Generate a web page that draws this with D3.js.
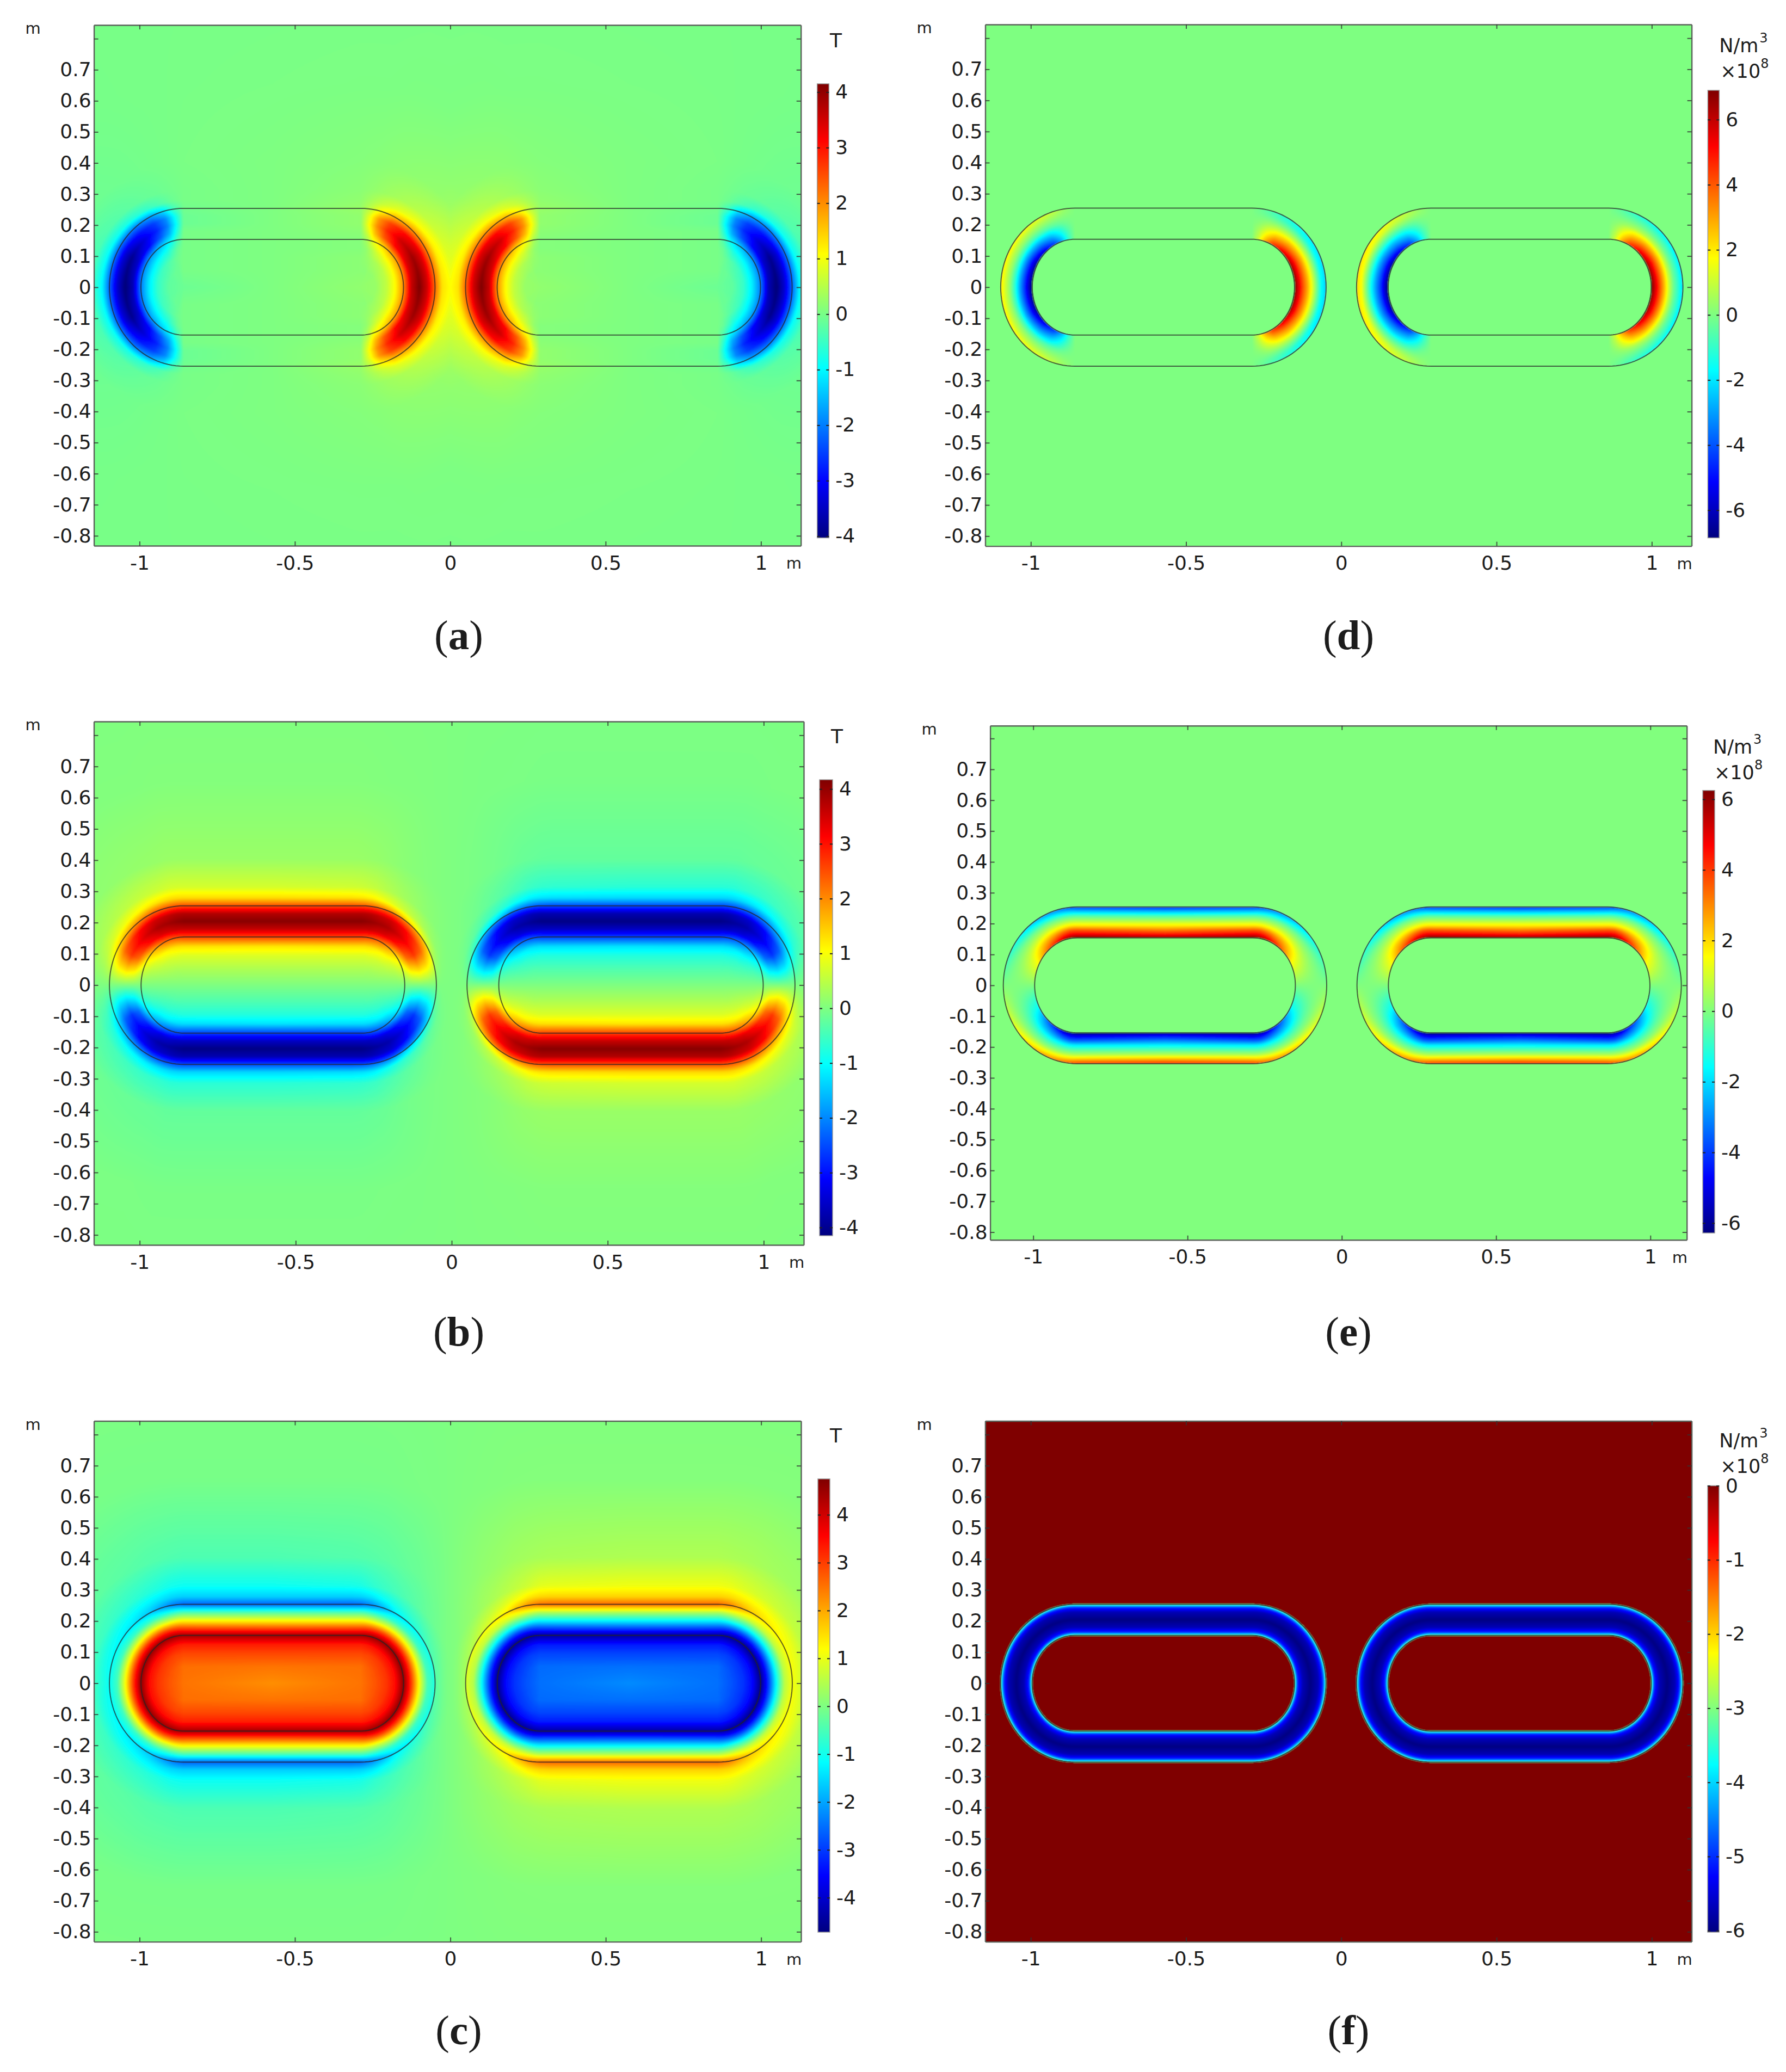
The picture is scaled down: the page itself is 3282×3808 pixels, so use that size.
<!DOCTYPE html>
<html>
<head>
<meta charset="utf-8">
<script src="https://cdn.jsdelivr.net/npm/d3@7"></script>
<style>
  body { margin: 0; background: #fff; }
  text { fill: #1c1c1c; }
</style>
</head>
<body>
<svg id="chart" width="3282" height="3808"></svg>
<script>
// axis ticks
const xTicks = [-1, -0.5, 0, 0.5, 1];
const yTicks = [-0.8, -0.7, -0.6, -0.5, -0.4, -0.3, -0.2, -0.1, 0, 0.1, 0.2, 0.3, 0.4, 0.5, 0.6, 0.7, 0.8];
const xDomain = [-1.1468, 1.1284];
const yDomain = [-0.832, 0.844];
const xDomainE = [-1.1395, 1.118];
const yDomainE = [-0.825, 0.8415];

// colour bar ranges and ticks, panels a..f
const barA = [-4.03, 4.15], barATicks = [-4, -3, -2, -1, 0, 1, 2, 3, 4];
const barB = [-4.15, 4.17], barBTicks = [-4, -3, -2, -1, 0, 1, 2, 3, 4];
const barC = [-4.72, 4.75], barCTicks = [-4, -3, -2, -1, 0, 1, 2, 3, 4];
const barD = [-6.85, 6.9], barDTicks = [-6, -4, -2, 0, 2, 4, 6];
const barE = [-6.28, 6.25], barETicks = [-6, -4, -2, 0, 2, 4, 6];
const barF = [-6.02, 0], barFTicks = [-6, -5, -4, -3, -2, -1, 0];

// coil outline: half length of the straight part and radii of the round ends
const coilCentre = -0.573;
const coilHalfStraight = 0.285;
const innerRx = 0.1375, innerRy = 0.154;
const outerRx = 0.239, outerRy = 0.254;
const rightCoilStretch = 1.003;

// stations along the top half of the left coil:
// -90..0 angle on the left end, 0..100 straight part, 100..190 angle on the right end
const stations = [-90, -60, -40, -25, -15, -8, 0, 50, 100, 108, 115, 125, 140, 160, 190];
// across the coil: <0 hole, 0..1 winding, >1 outside
const fieldRows = [-1.54, -1, -0.6, -0.3, 0, 0.25, 0.5, 0.75, 1, 1.25, 1.6, 2.5, 5, 9];
const windingRows = [0, 0.1, 0.25, 0.4, 0.55, 0.7, 0.85, 1];
const forceFRows = [0, 0.03, 0.09, 0.26, 0.5, 0.75, 0.9, 0.97, 1];

// fields that change sign at x = 0 die out towards that line
const midlineX = [0, 0.04, 0.1, 0.2, 0.32];
const midlineK = [0, 0.35, 0.65, 0.88, 1];

// values, one row per fieldRows / windingRows entry
const fieldA = [
  [-0.1, -0.1, -0.1, -0.1, -0.1, -0.1, -0.1, 0.05, 0.2, 0.2, 0.2, 0.2, 0.2, 0.2, 0.2],
  [-0.2, -0.2, -0.15, -0.1, -0.1, -0.05, 0, 0.05, 0.15, 0.15, 0.15, 0.2, 0.2, 0.25, 0.25],
  [-0.55, -0.5, -0.4, -0.25, -0.12, -0.05, 0, 0.05, 0.15, 0.2, 0.25, 0.35, 0.45, 0.55, 0.6],
  [-1.1, -1.05, -0.9, -0.7, -0.35, -0.12, 0, 0.05, 0.1, 0.2, 0.4, 0.7, 0.95, 1.05, 1.1],
  [-2.0, -1.9, -1.7, -1.3, -0.9, -0.4, 0, 0.05, 0.1, 0.4, 0.9, 1.3, 1.7, 1.9, 2.0],
  [-3.6, -3.4, -3.0, -2.3, -1.6, -0.8, 0, 0.05, 0.15, 0.8, 1.6, 2.4, 3.1, 3.4, 3.6],
  [-4.1, -3.9, -3.3, -2.7, -2.0, -1.1, -0.1, 0.05, 0.2, 1.1, 2.0, 2.8, 3.5, 3.9, 4.15],
  [-3.4, -3.3, -2.9, -2.5, -1.9, -1.0, -0.1, 0.05, 0.2, 1.0, 1.9, 2.6, 3.1, 3.4, 3.5],
  [-2.2, -2.1, -2.0, -1.7, -1.2, -0.5, -0.05, 0.05, 0.25, 0.6, 1.1, 1.6, 1.9, 2.1, 2.3],
  [-1.0, -0.9, -0.75, -0.55, -0.3, -0.12, 0, 0.05, 0.2, 0.4, 0.6, 0.85, 1.05, 1.2, 1.3],
  [-0.4, -0.35, -0.25, -0.15, -0.1, -0.05, 0, 0.05, 0.15, 0.22, 0.3, 0.4, 0.55, 0.75, 1.0],
  [-0.1, -0.1, -0.08, -0.05, -0.02, 0, 0.02, 0.05, 0.1, 0.12, 0.15, 0.18, 0.22, 0.4, 1.0],
  [-0.02, -0.02, -0.02, -0.01, 0, 0, 0.01, 0.02, 0.03, 0.03, 0.04, 0.04, 0.05, 0.08, 0.15],
  [0, 0, 0, 0, 0, 0, 0, 0, 0, 0, 0, 0, 0, 0, 0]
];
const fieldB = [
  [0, 0, 0, 0, 0, 0, 0, 0, 0, 0, 0, 0, 0, 0, 0],
  [0, 0.2, 0.3, 0.35, 0.38, 0.4, 0.4, 0.4, 0.4, 0.4, 0.38, 0.35, 0.3, 0.2, 0],
  [0, 0.4, 0.6, 0.7, 0.75, 0.75, 0.75, 0.75, 0.75, 0.75, 0.75, 0.7, 0.6, 0.4, 0],
  [0, 0.6, 1.0, 1.15, 1.25, 1.3, 1.3, 1.25, 1.3, 1.3, 1.25, 1.15, 1.0, 0.6, 0],
  [0, 1.0, 1.7, 2.2, 2.4, 2.5, 2.6, 2.6, 2.6, 2.5, 2.4, 2.2, 1.7, 1.0, 0],
  [0, 2.2, 3.0, 3.4, 3.5, 3.6, 3.6, 3.6, 3.6, 3.6, 3.5, 3.4, 3.0, 2.2, 0],
  [0, 2.7, 3.4, 3.8, 3.9, 4.0, 4.1, 4.1, 4.1, 4.0, 3.9, 3.8, 3.4, 2.7, 0],
  [0, 2.3, 3.1, 3.5, 3.6, 3.7, 3.75, 3.75, 3.75, 3.7, 3.6, 3.5, 3.1, 2.3, 0],
  [0, 1.3, 1.9, 2.3, 2.4, 2.45, 2.5, 2.5, 2.5, 2.45, 2.4, 2.3, 1.9, 1.3, 0],
  [0, 0.7, 1.0, 1.2, 1.3, 1.35, 1.35, 1.35, 1.3, 1.25, 1.1, 0.9, 0.7, 0.4, 0],
  [0, 0.35, 0.5, 0.6, 0.65, 0.7, 0.7, 0.7, 0.65, 0.6, 0.5, 0.4, 0.25, 0.1, 0],
  [0, 0.1, 0.15, 0.18, 0.2, 0.22, 0.22, 0.22, 0.22, 0.2, 0.16, 0.1, 0.06, 0.02, 0],
  [0, 0.01, 0.02, 0.03, 0.03, 0.04, 0.04, 0.04, 0.04, 0.03, 0.03, 0.02, 0.01, 0, 0],
  [0, 0, 0, 0, 0, 0, 0, 0, 0, 0, 0, 0, 0, 0, 0]
];
const fieldC = [
  [2.5, 2.5, 2.5, 2.5, 2.5, 2.5, 2.5, 2.25, 2.5, 2.5, 2.5, 2.5, 2.5, 2.5, 2.5],
  [2.8, 2.8, 2.75, 2.7, 2.65, 2.6, 2.55, 2.5, 2.55, 2.6, 2.65, 2.7, 2.75, 2.8, 2.8],
  [3.1, 3.1, 3.05, 3.0, 2.95, 2.95, 2.9, 2.9, 2.9, 2.95, 2.95, 3.0, 3.05, 3.1, 3.1],
  [3.5, 3.5, 3.5, 3.45, 3.4, 3.35, 3.3, 3.3, 3.3, 3.35, 3.4, 3.45, 3.5, 3.5, 3.5],
  [4.6, 4.6, 4.55, 4.5, 4.5, 4.45, 4.4, 4.4, 4.4, 4.45, 4.5, 4.5, 4.55, 4.6, 4.6],
  [3.0, 3.0, 2.95, 2.9, 2.85, 2.8, 2.75, 2.7, 2.75, 2.8, 2.85, 2.9, 2.95, 3.0, 3.0],
  [1.1, 1.0, 0.95, 0.9, 0.85, 0.95, 1.05, 1.05, 1.05, 0.95, 0.85, 0.9, 0.95, 1.0, 1.1],
  [-0.55, -0.6, -0.65, -0.7, -0.75, -0.7, -0.55, -0.5, -0.55, -0.7, -0.75, -0.7, -0.65, -0.6, -0.5],
  [-1.1, -1.2, -1.4, -1.7, -2.1, -2.4, -2.6, -2.6, -2.6, -2.4, -2.1, -1.6, -1.3, -1.05, -0.9],
  [-0.85, -1.0, -1.15, -1.3, -1.45, -1.55, -1.6, -1.6, -1.6, -1.5, -1.3, -1.1, -0.9, -0.75, -0.6],
  [-0.5, -0.6, -0.7, -0.8, -0.9, -1.0, -1.05, -1.05, -0.95, -0.8, -0.7, -0.6, -0.45, -0.3, -0.15],
  [-0.2, -0.25, -0.3, -0.35, -0.4, -0.42, -0.45, -0.45, -0.4, -0.38, -0.35, -0.3, -0.25, -0.15, -0.1],
  [-0.04, -0.05, -0.05, -0.06, -0.06, -0.06, -0.06, -0.06, -0.06, -0.06, -0.05, -0.05, -0.04, -0.03, -0.02],
  [0, 0, 0, 0, 0, 0, 0, 0, 0, 0, 0, 0, 0, 0, 0]
];
const forceD = [
  [-6.9, -6.6, -5.8, -4.5, -2.8, -1.2, 0, 0, 0, 1.2, 2.8, 4.5, 5.8, 6.6, 6.9],
  [-6.0, -5.7, -4.9, -3.8, -2.3, -1.0, 0, 0, 0, 1.0, 2.3, 3.8, 4.8, 5.6, 5.9],
  [-4.4, -4.2, -3.6, -2.8, -1.7, -0.8, 0, 0, 0, 0.8, 1.7, 2.8, 3.5, 4.1, 4.3],
  [-2.8, -2.7, -2.3, -1.8, -1.1, -0.5, 0, 0, 0, 0.5, 1.1, 1.8, 2.4, 2.8, 3.0],
  [-1.1, -1.0, -0.8, -0.6, -0.4, -0.2, 0, 0, 0, 0.2, 0.5, 0.8, 1.0, 1.3, 1.5],
  [0.2, 0.2, 0.15, 0.1, 0.05, 0, 0, 0, 0, 0, 0, -0.1, -0.1, -0.1, -0.1],
  [1.1, 1.0, 0.9, 0.7, 0.45, 0.2, 0, 0, 0, -0.2, -0.45, -0.8, -1.2, -1.5, -1.7],
  [2.1, 2.0, 1.7, 1.3, 0.8, 0.35, 0, 0, 0, -0.3, -0.7, -1.2, -1.7, -2.1, -2.3]
];
const forceE = [
  [0, 1.6, 3.4, 4.8, 5.8, 6.2, 6.3, 6.0, 6.3, 6.2, 5.8, 4.8, 3.4, 1.6, 0],
  [0, 1.4, 2.9, 3.9, 4.6, 4.9, 5.0, 4.6, 5.0, 4.9, 4.6, 3.9, 2.9, 1.4, 0],
  [0, 1.1, 2.2, 2.8, 3.3, 3.6, 3.6, 3.1, 3.6, 3.6, 3.3, 2.8, 2.2, 1.1, 0],
  [0, 0.7, 1.3, 1.6, 1.7, 1.8, 1.8, 1.7, 1.8, 1.8, 1.7, 1.6, 1.3, 0.7, 0],
  [0, 0.3, 0.5, 0.6, 0.6, 0.6, 0.6, 0.55, 0.6, 0.6, 0.6, 0.6, 0.5, 0.3, 0],
  [0, -0.1, -0.2, -0.3, -0.4, -0.5, -0.5, -0.6, -0.5, -0.5, -0.4, -0.3, -0.2, -0.1, 0],
  [0, -0.6, -1.2, -1.6, -1.8, -2.0, -2.2, -2.4, -2.2, -2.0, -1.8, -1.6, -1.2, -0.6, 0],
  [0, -1.2, -2.1, -2.8, -3.2, -3.6, -4.0, -4.3, -4.0, -3.6, -3.2, -2.8, -2.1, -1.2, 0]
];
const forceF = [-3.1, -3.8, -5.0, -5.7, -6.0, -5.7, -5.0, -3.8, -3.1];

// frame boxes and colour bars in page pixels
const boxA = { left: 172.6, right: 1471.7, top: 46, bottom: 1003, barL: 1501.7, barR: 1523.3, barT: 154, barB: 988.5, unitX: 1525, unitY: 87, caption: [843, 1193] };
const boxB = { left: 172.5, right: 1477, top: 1326, bottom: 2288, barL: 1506, barR: 1530, barT: 1433, barB: 2271, unitX: 1527, unitY: 1366, caption: [843, 2473] };
const boxC = { left: 172.6, right: 1472, top: 2611.5, bottom: 3568.6, barL: 1503, barR: 1525, barT: 2718, barB: 3551, unitX: 1525, unitY: 2651, caption: [843, 3757] };
const boxD = { left: 1810.5, right: 3108.6, top: 45, bottom: 1003.6, barL: 3138.3, barR: 3159.3, barT: 166, barB: 988.5, unitX: 3159.3, unitY: 95.7, caption: [2478, 1193] };
const boxE = { left: 1819.6, right: 3099.7, top: 1333.7, bottom: 2278.7, barL: 3129, barR: 3151, barT: 1452.7, barB: 2266, unitX: 3148, unitY: 1385, caption: [2478, 2473] };
const boxF = { left: 1810.4, right: 3108.6, top: 2611.5, bottom: 3568.6, barL: 3138, barR: 3159, barT: 2730.5, barB: 3551, unitX: 3159.3, unitY: 2660, caption: [2478, 3757] };

const panels = [
  { id: "a", box: boxA, xd: xDomain, yd: yDomain, table: fieldA, rows: fieldRows, cols: stations, winding: false, xSign: 1, ySign: 1, bar: barA, barTicks: barATicks, unit: "T" },
  { id: "b", box: boxB, xd: xDomain, yd: yDomain, table: fieldB, rows: fieldRows, cols: stations, winding: false, xSign: -1, ySign: -1, bar: barB, barTicks: barBTicks, unit: "T" },
  { id: "c", box: boxC, xd: xDomain, yd: yDomain, table: fieldC, rows: fieldRows, cols: stations, winding: false, xSign: -1, ySign: 1, bar: barC, barTicks: barCTicks, unit: "T" },
  { id: "d", box: boxD, xd: xDomain, yd: yDomain, table: forceD, rows: windingRows, cols: stations, winding: true, xSign: -1, ySign: 1, bar: barD, barTicks: barDTicks, unit: "N" },
  { id: "e", box: boxE, xd: xDomainE, yd: yDomainE, table: forceE, rows: windingRows, cols: stations, winding: true, xSign: 1, ySign: -1, bar: barE, barTicks: barETicks, unit: "N" },
  { id: "f", box: boxF, xd: xDomain, yd: yDomain, table: forceF.map((v) => [v, v]), rows: forceFRows, cols: [-90, 190], winding: true, xSign: 1, ySign: 1, bar: barF, barTicks: barFTicks, unit: "N" }
];

const jetStops = [0, 0.125, 0.375, 0.625, 0.875, 1];
const jetColours = ["#00007f", "#0000ff", "#00ffff", "#ffff00", "#ff0000", "#7f0000"];
const jet = d3.scaleLinear().domain(jetStops).range(jetColours).interpolate(d3.interpolateRgb);
const jetLut = d3.range(1024).map((i) => {
  const c = d3.rgb(jet(i / 1023));
  return [c.r, c.g, c.b];
});
const midlineFade = d3.scaleLinear().domain(midlineX).range(midlineK).clamp(true);

const svg = d3.select("#chart");
const defs = svg.append("defs");
defs.append("filter").attr("id", "soft").append("feGaussianBlur").attr("stdDeviation", 1.3);
const barGrad = defs.append("linearGradient").attr("id", "jetBar")
  .attr("x1", 0).attr("y1", 1).attr("x2", 0).attr("y2", 0);
jetStops.forEach((s, i) => barGrad.append("stop").attr("offset", s).attr("stop-color", jetColours[i]));

const clamp = (v, a, b) => Math.max(a, Math.min(b, v));

function sampleTable(table, rows, cols, w, s) {
  const i = clamp(d3.bisectRight(rows, w) - 1, 0, rows.length - 2);
  const j = clamp(d3.bisectRight(cols, s) - 1, 0, cols.length - 2);
  const tw = clamp((w - rows[i]) / (rows[i + 1] - rows[i]), 0, 1);
  const ts = clamp((s - cols[j]) / (cols[j + 1] - cols[j]), 0, 1);
  const top = table[i][j] * (1 - ts) + table[i][j + 1] * ts;
  const bot = table[i + 1][j] * (1 - ts) + table[i + 1][j + 1] * ts;
  return top * (1 - tw) + bot * tw;
}

// page point to (w, s) on the left coil, top half
function coilCoords(x, y) {
  const along = x - coilCentre;
  const px = clamp(along, -coilHalfStraight, coilHalfStraight);
  const dx = along - px;
  const dy = y;
  const rhoIn = Math.hypot(dx / innerRx, dy / innerRy);
  const rhoOut = Math.hypot(dx / outerRx, dy / outerRy);
  let w;
  if (rhoIn < 1) w = 1.54 * (rhoIn - 1);
  else if (rhoOut > 1) w = 1 + (rhoOut - 1) * 2.54;
  else w = (1 - 1 / rhoIn) / (1 / rhoOut - 1 / rhoIn);

  let s = 50 + 50 * px / coilHalfStraight;
  if (dx !== 0) {
    const ang = Math.atan2(Math.abs(dx), dy) * 180 / Math.PI;
    s = dx < 0 ? -ang : 100 + ang;
  }
  return [w, s];
}

function fieldImage(p, xScale, yScale) {
  const pad = 6;
  const x0 = Math.floor(p.box.left) - pad, y0 = Math.floor(p.box.top) - pad;
  const w = Math.ceil(p.box.right) + pad - x0, h = Math.ceil(p.box.bottom) + pad - y0;
  const canvas = document.createElement("canvas");
  canvas.width = w;
  canvas.height = h;
  const ctx = canvas.getContext("2d");
  const img = ctx.createImageData(w, h);
  const toT = d3.scaleLinear().domain(p.bar).range([0, 1023]).clamp(true);
  for (let j = 0; j < h; j++) {
    const yv = yScale.invert(y0 + j + 0.5);
    for (let i = 0; i < w; i++) {
      const xv = xScale.invert(x0 + i + 0.5);
      const sign = (xv > 0 ? p.xSign : 1) * (yv < 0 ? p.ySign : 1);
      const mx = xv > 0 ? xv / rightCoilStretch : -xv;
      const [cw, cs] = coilCoords(-mx, Math.abs(yv));
      let v = 0;
      if (!p.winding || (cw >= 0 && cw <= 1)) v = sign * sampleTable(p.table, p.rows, p.cols, cw, cs);
      if (p.xSign < 0 && cw > 1) v *= midlineFade(mx);
      const c = jetLut[Math.round(toT(v))];
      const k = 4 * (j * w + i);
      img.data[k] = c[0];
      img.data[k + 1] = c[1];
      img.data[k + 2] = c[2];
      img.data[k + 3] = 255;
    }
  }
  ctx.putImageData(img, 0, 0);
  return { href: canvas.toDataURL("image/png"), x0, y0, w, h };
}

function coilOutline(centre, rx, ry) {
  const pts = [];
  const arc = d3.range(0, 181, 3);
  pts.push([centre - coilHalfStraight, ry], [centre + coilHalfStraight, ry]);
  arc.forEach((a) => {
    const t = a * Math.PI / 180;
    pts.push([centre + coilHalfStraight + rx * Math.sin(t), ry * Math.cos(t)]);
  });
  pts.push([centre + coilHalfStraight, -ry], [centre - coilHalfStraight, -ry]);
  arc.forEach((a) => {
    const t = a * Math.PI / 180;
    pts.push([centre - coilHalfStraight - rx * Math.sin(t), -ry * Math.cos(t)]);
  });
  return pts;
}

function styleAxis(g, size) {
  g.attr("font-family", "'DejaVu Sans', sans-serif").attr("font-size", size);
  g.selectAll("path.domain").attr("stroke", "#5a625a").attr("stroke-width", 2.4);
  g.selectAll(".tick line").attr("stroke", "#333").attr("stroke-width", 2).attr("stroke-opacity", 0.8);
}

function drawPanel(p) {
  const b = p.box;
  const xScale = d3.scaleLinear().domain(p.xd).range([b.left, b.right]);
  const yScale = d3.scaleLinear().domain(p.yd).range([b.bottom, b.top]);
  const g = svg.append("g").attr("class", "panel-" + p.id);

  const clipId = "clip-" + p.id;
  defs.append("clipPath").attr("id", clipId).append("rect")
    .attr("x", b.left).attr("y", b.top).attr("width", b.right - b.left).attr("height", b.bottom - b.top);

  const f = fieldImage(p, xScale, yScale);
  g.append("g").attr("clip-path", `url(#${clipId})`)
    .append("image").attr("href", f.href)
    .attr("x", f.x0).attr("y", f.y0).attr("width", f.w).attr("height", f.h)
    .attr("filter", "url(#soft)");

  const line = d3.line().x((d) => xScale(d[0])).y((d) => yScale(d[1])).curve(d3.curveLinearClosed);
  [[coilCentre, 1], [-coilCentre, rightCoilStretch]].forEach(([c, k]) => {
    [[innerRx, innerRy], [outerRx, outerRy]].forEach(([rx, ry]) => {
      const pts = coilOutline(c, rx, ry).map((d) => [d[0] * k, d[1]]);
      g.append("path").attr("d", line(pts))
        .attr("fill", "none").attr("stroke", "#262626").attr("stroke-width", 2).attr("stroke-opacity", 0.72);
    });
  });

  const labelY = (v) => (Math.abs(v - 0.8) < 1e-9 ? "" : String(v));
  const left = g.append("g").attr("transform", `translate(${b.left},0)`)
    .call(d3.axisLeft(yScale).tickValues(yTicks).tickFormat(labelY).tickSize(-8).tickSizeOuter(0).tickPadding(5));
  const right = g.append("g").attr("transform", `translate(${b.right},0)`)
    .call(d3.axisRight(yScale).tickValues(yTicks).tickFormat("").tickSize(-8).tickSizeOuter(0));
  const bottom = g.append("g").attr("transform", `translate(0,${b.bottom})`)
    .call(d3.axisBottom(xScale).tickValues(xTicks).tickFormat((v) => String(v)).tickSize(-8).tickSizeOuter(0).tickPadding(18));
  const top = g.append("g").attr("transform", `translate(0,${b.top})`)
    .call(d3.axisTop(xScale).tickValues(xTicks).tickFormat("").tickSize(-8).tickSizeOuter(0));
  [left, right, bottom, top].forEach((a) => styleAxis(a, 36));

  const font = "'DejaVu Sans', sans-serif";
  g.append("text").text("m").attr("x", b.left - 126).attr("y", b.top + 16)
    .attr("font-family", font).attr("font-size", 29);
  g.append("text").text("m").attr("x", b.right - 27).attr("y", b.bottom + 42)
    .attr("font-family", font).attr("font-size", 29);

  // colour bar
  g.append("rect").attr("x", b.barL).attr("y", b.barT)
    .attr("width", b.barR - b.barL).attr("height", b.barB - b.barT)
    .attr("fill", "url(#jetBar)").attr("stroke", "#9a9a9a").attr("stroke-width", 1.5);
  const barScale = d3.scaleLinear().domain(p.bar).range([b.barB, b.barT]);
  const barLabels = g.append("g").attr("transform", `translate(${b.barR},0)`)
    .call(d3.axisRight(barScale).tickValues(p.barTicks).tickFormat((v) => String(v)).tickSize(0).tickPadding(12));
  barLabels.select(".domain").remove();
  barLabels.attr("font-family", font).attr("font-size", 36);
  [[b.barR, d3.axisLeft], [b.barL, d3.axisRight]].forEach(([pos, axis]) => {
    const t = g.append("g").attr("transform", `translate(${pos},0)`)
      .call(axis(barScale).tickValues(p.barTicks).tickFormat("").tickSize(5));
    t.select(".domain").remove();
    t.selectAll(".tick line").attr("stroke", "#222").attr("stroke-width", 2);
  });

  if (p.unit === "T") {
    g.append("text").text("T").attr("x", b.unitX).attr("y", b.unitY)
      .attr("font-family", font).attr("font-size", 36);
  } else {
    g.append("text").text("N/m").attr("x", b.unitX).attr("y", b.unitY)
      .attr("font-family", font).attr("font-size", 35);
    g.append("text").text("3").attr("x", b.unitX + 74).attr("y", b.unitY - 18)
      .attr("font-family", font).attr("font-size", 24);
    g.append("text").text("×10").attr("x", b.unitX + 2).attr("y", b.unitY + 47)
      .attr("font-family", font).attr("font-size", 35);
    g.append("text").text("8").attr("x", b.unitX + 76).attr("y", b.unitY + 29)
      .attr("font-family", font).attr("font-size", 24);
  }

  const cap = g.append("text").attr("x", b.caption[0]).attr("y", b.caption[1])
    .attr("text-anchor", "middle").attr("font-family", "'Liberation Serif', serif").attr("font-size", 77);
  cap.append("tspan").text("(");
  cap.append("tspan").text(p.id).attr("font-weight", "bold");
  cap.append("tspan").text(")");
}

panels.forEach(drawPanel);
</script>
</body>
</html>
